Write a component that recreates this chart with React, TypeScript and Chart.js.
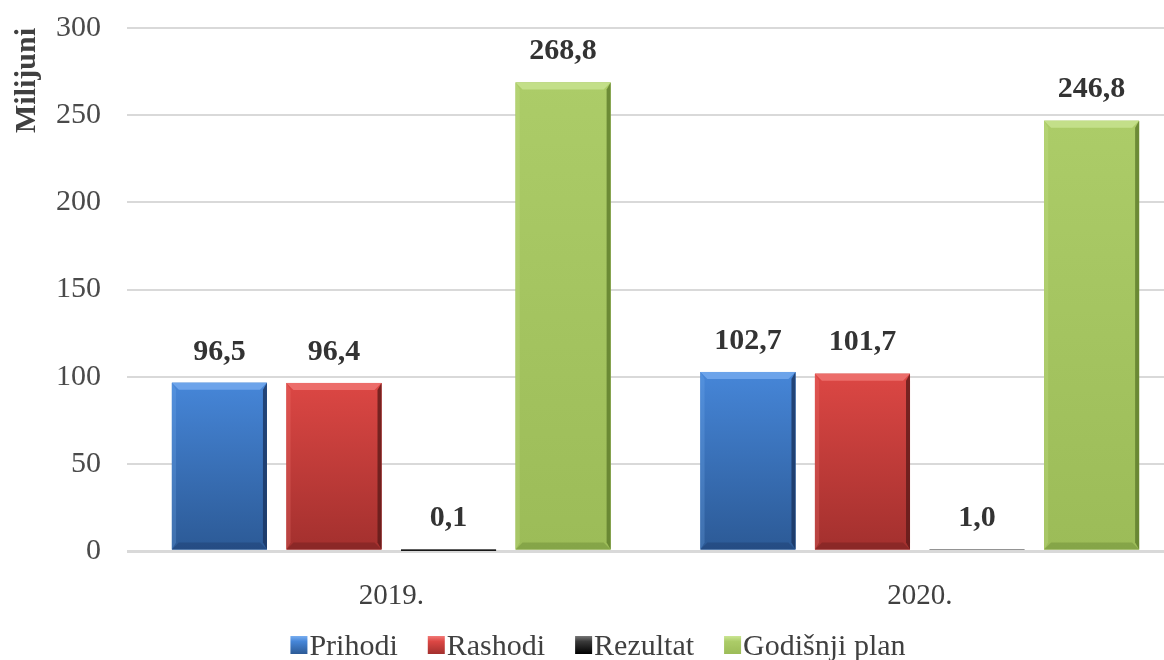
import { useEffect, useRef } from "react";
import { Chart, registerables } from "chart.js";

Chart.register(...registerables);

const categories = ["2019.", "2020."];
const seriesNames = ["Prihodi", "Rashodi", "Rezultat", "Godišnji plan"];
const prihodi = [96.5, 102.7];
const rashodi = [96.4, 101.7];
const rezultat = [0.1, 1.0];
const godisnjiPlan = [268.8, 246.8];
const yTickStep = 50;
const yMax = 300;
const axisTitle = "Milijuni";

const palette = [
  { base: "#3b78c4", top: "#4686d8", bottom: "#2c5a96", light: "#79aef0", dark: "#1a3560" },
  { base: "#c83c3a", top: "#dc4744", bottom: "#a3302e", light: "#f27a77", dark: "#5e1a19" },
  { base: "#111111", top: "#3a3a3a", bottom: "#000000", light: "#777777", dark: "#000000" },
  { base: "#a2c35f", top: "#accc68", bottom: "#9cbc58", light: "#cbe694", dark: "#5c7a2a" },
];

const SERIF = "'Liberation Serif', serif";

const fmt = (v: number) => v.toFixed(1).replace(".", ",");

const bevelPlugin = {
  id: "bevel",
  afterDatasetsDraw(chart: any) {
    const ctx = chart.ctx;
    chart.data.datasets.forEach((ds: any, di: number) => {
      const meta = chart.getDatasetMeta(di);
      const p = palette[di];
      meta.data.forEach((el: any) => {
        const { x, y, base, width } = el.getProps(["x", "y", "base", "width"], true);
        const left = x - width / 2;
        const right = x + width / 2;
        const top = Math.min(y, base);
        const bottom = Math.max(y, base);
        const h = bottom - top;
        if (h <= 0) return;
        ctx.save();
        const g = ctx.createLinearGradient(0, top, 0, bottom);
        g.addColorStop(0, p.top);
        g.addColorStop(1, p.bottom);
        ctx.fillStyle = g;
        ctx.fillRect(left, top, width, h);
        const b = Math.min(7, h / 2, width / 2);
        if (h > 4) {
          ctx.globalAlpha = 0.75;
          ctx.fillStyle = p.light;
          ctx.beginPath();
          ctx.moveTo(left, top);
          ctx.lineTo(right, top);
          ctx.lineTo(right - b, top + b);
          ctx.lineTo(left + b, top + b);
          ctx.closePath();
          ctx.fill();
          ctx.globalAlpha = 0.25;
          ctx.beginPath();
          ctx.moveTo(left, top);
          ctx.lineTo(left + b * 0.6, top + b);
          ctx.lineTo(left + b * 0.6, bottom - b);
          ctx.lineTo(left, bottom);
          ctx.closePath();
          ctx.fill();
          ctx.globalAlpha = 0.35;
          ctx.fillStyle = p.dark;
          ctx.beginPath();
          ctx.moveTo(left, bottom);
          ctx.lineTo(right, bottom);
          ctx.lineTo(right - b, bottom - b);
          ctx.lineTo(left + b, bottom - b);
          ctx.closePath();
          ctx.fill();
          ctx.globalAlpha = 0.8;
          ctx.beginPath();
          ctx.moveTo(right, top);
          ctx.lineTo(right - 4, top + b);
          ctx.lineTo(right - 4, bottom - b);
          ctx.lineTo(right, bottom);
          ctx.closePath();
          ctx.fill();
        }
        ctx.restore();
      });
    });
    ctx.save();
    ctx.font = `bold 30px ${SERIF}`;
    ctx.fillStyle = "#333333";
    ctx.textAlign = "center";
    ctx.textBaseline = "middle";
    chart.data.datasets.forEach((ds: any, di: number) => {
      const meta = chart.getDatasetMeta(di);
      meta.data.forEach((el: any, i: number) => {
        const { x, y, base } = el.getProps(["x", "y", "base"], true);
        const top = Math.min(y, base);
        ctx.fillText(fmt(ds.data[i]), x, top - 31);
      });
    });
    ctx.restore();
  },
};

const legendPlugin = {
  id: "customLegend",
  afterDraw(chart: any) {
    const ctx = chart.ctx;
    ctx.save();
    ctx.font = `normal 30px ${SERIF}`;
    ctx.textBaseline = "alphabetic";
    ctx.textAlign = "left";
    const boxW = 17;
    const boxH = 18;
    const gap = 2;
    const spacing = 30;
    const widths = seriesNames.map((n) => boxW + gap + ctx.measureText(n).width);
    const total = widths.reduce((a, b) => a + b, 0) + spacing * (widths.length - 1);
    let xPos = chart.width / 2 + 3 - total / 2;
    const baseline = 655;
    seriesNames.forEach((n, i) => {
      const p = palette[i];
      const top = baseline - boxH - 1;
      const g = ctx.createLinearGradient(0, top, 0, top + boxH);
      g.addColorStop(0, p.light);
      g.addColorStop(0.3, p.top);
      g.addColorStop(1, p.bottom);
      ctx.fillStyle = g;
      ctx.fillRect(xPos, top, boxW, boxH);
      ctx.fillStyle = "#404040";
      ctx.fillText(n, xPos + boxW + gap, baseline);
      xPos += widths[i] + spacing;
    });
    ctx.restore();
  },
};

export default function App() {
  const ref = useRef<HTMLCanvasElement | null>(null);
  useEffect(() => {
    if (!ref.current) return;
    const series = [prihodi, rashodi, rezultat, godisnjiPlan];
    const chart = new Chart(ref.current, {
      type: "bar",
      data: {
        labels: categories,
        datasets: series.map((d, i) => ({
          label: seriesNames[i],
          data: d,
          backgroundColor: palette[i].base,
          borderWidth: 0,
          categoryPercentage: 0.867,
          barPercentage: 0.83,
        })),
      },
      options: {
        responsive: false,
        animation: false,
        layout: { padding: { top: 28, right: 6, bottom: 47, left: 0 } },
        plugins: {
          legend: { display: false },
          tooltip: { enabled: false },
        },
        scales: {
          x: {
            grid: { display: false },
            border: { display: false },
            ticks: {
              font: { family: SERIF, size: 29 },
              color: "#404040",
              padding: 20,
            },
            afterFit: (s: any) => {
              s.height = 62;
            },
          },
          y: {
            min: 0,
            max: yMax,
            ticks: {
              stepSize: yTickStep,
              font: { family: SERIF, size: 30 },
              color: "#4a4a4a",
              padding: 26,
            },
            grid: {
              color: "#d9d9d9",
              lineWidth: (c: any) => (c.tick && c.tick.value === 0 ? 3 : 2),
              drawTicks: false,
            },
            border: { display: false },
            title: {
              display: true,
              text: axisTitle,
              align: "end",
              color: "#404040",
              font: { family: SERIF, size: 30, weight: "bold" },
              padding: { top: 9, bottom: 0 },
            },
            afterFit: (s: any) => {
              s.width = 127;
              s.paddingTop = 0;
              s.paddingBottom = 0;
            },
          },
        },
      },
      plugins: [bevelPlugin, legendPlugin],
    });
    return () => chart.destroy();
  }, []);
  return (
    <div
      style={{
        position: "fixed",
        left: 0,
        top: 0,
        width: 1164,
        height: 660,
        overflow: "hidden",
        background: "#ffffff",
      }}
    >
      <canvas ref={ref} width={1190} height={660} style={{ display: "block" }} />
    </div>
  );
}
